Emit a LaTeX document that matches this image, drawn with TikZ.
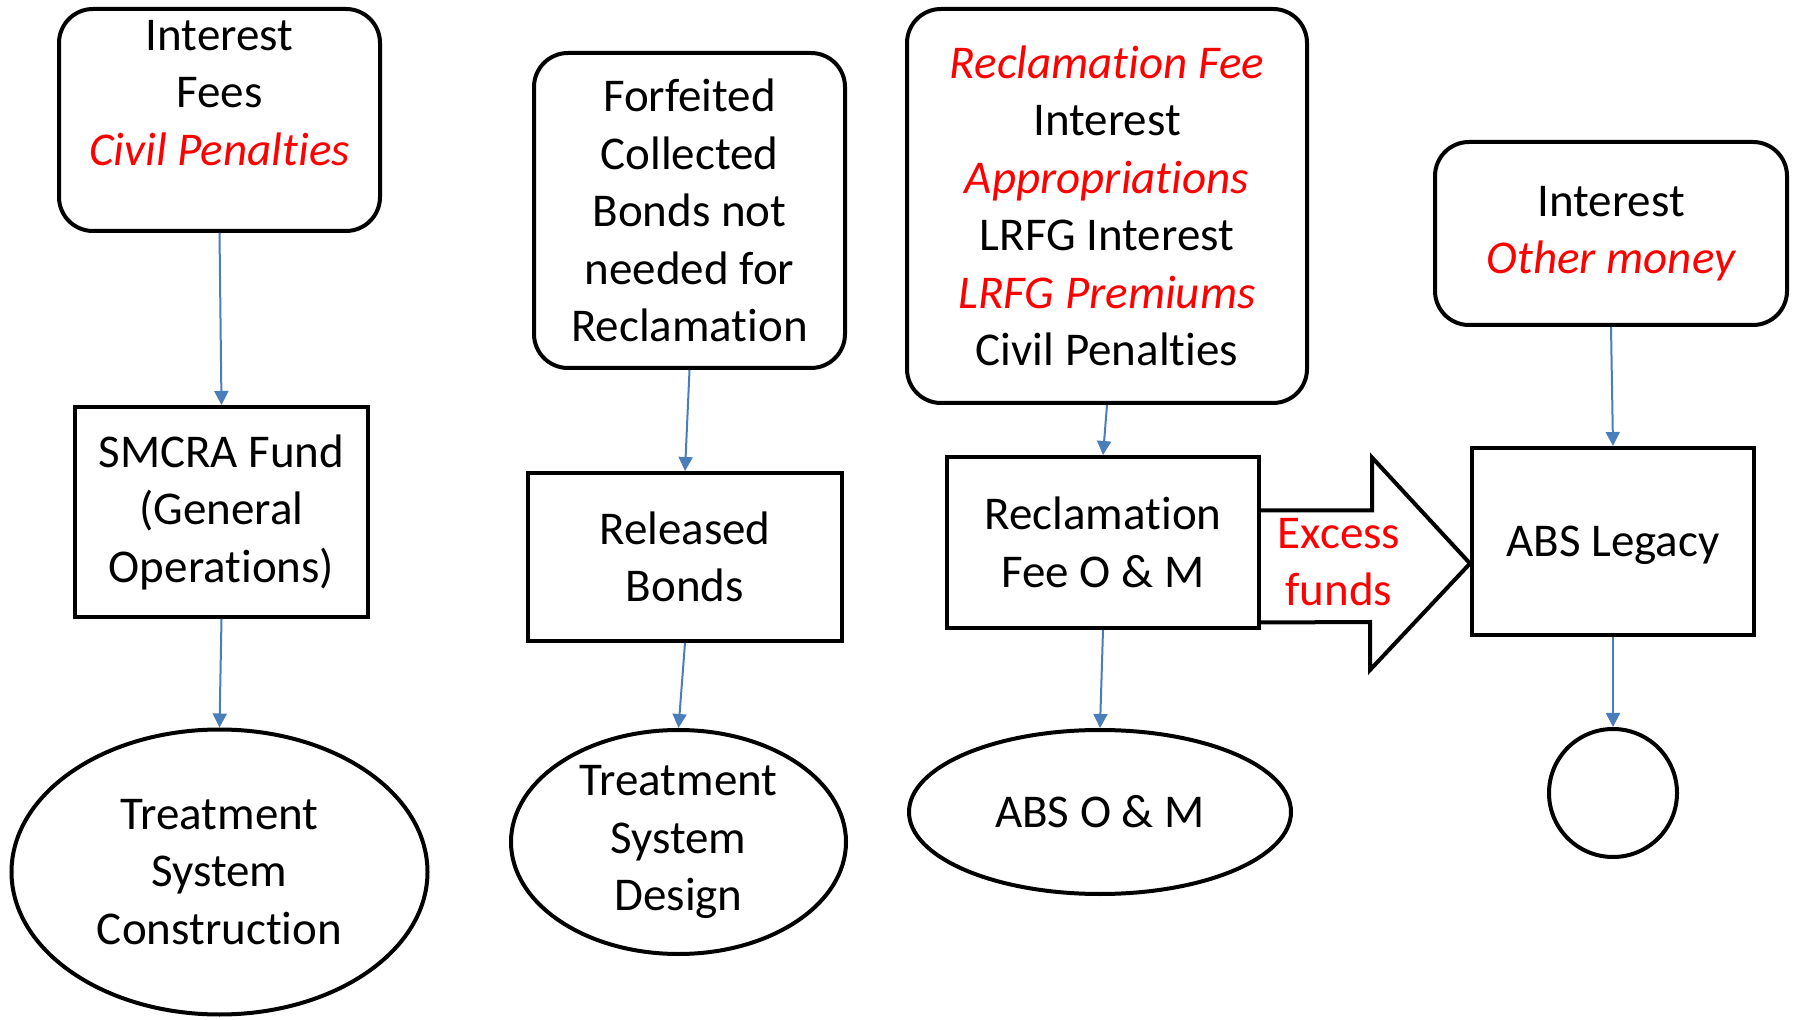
\documentclass[tikz,border=0pt]{standalone}
\usepackage{fontspec}
\setmainfont{Carlito}[Ligatures=NoCommon]
\usetikzlibrary{calc,positioning,arrows.meta,shapes.geometric}
\definecolor{linkblue}{RGB}{74,126,187}
\newcommand{\redit}[1]{\textcolor{red}{\itshape #1}}

\begin{document}
\begin{tikzpicture}[x=0.5pt,y=-0.5pt,
    every node/.style={font=\fontsize{23.5pt}{28.75pt}\selectfont, align=center},
    srcbox/.style={draw, line width=2pt, rounded corners=17pt},
    fundbox/.style={draw, line width=2pt},
    usebox/.style={draw, ellipse, line width=2pt, inner sep=0pt},
    link/.style={linkblue, line width=1pt, -{Triangle[width=7pt,length=7pt]}}]
    \useasboundingbox (0,0) rectangle (1793,1020);

    % column 1
    \node[srcbox, minimum width=160.5pt, minimum height=111pt] (inc1) at (219.5,120) {};
    \node (inc1txt) at (219.5,93) {Interest\\Fees\\\redit{Civil Penalties}};
    \node[fundbox, minimum width=146.5pt, minimum height=105pt] (smcra) at (221.5,512)
      {SMCRA Fund\\(General\\Operations)};
    \node[usebox, minimum width=208pt, minimum height=142.5pt] (build) at (219.5,872)
      {Treatment\\System\\Construction};

    % column 2
    \node[srcbox, minimum width=155.5pt, minimum height=157.5pt] (inc2) at (689.5,210.5)
      {Forfeited\\Collected\\Bonds not\\needed for\\Reclamation};
    \node[fundbox, minimum width=157pt, minimum height=84pt] (bonds) at (685,557)
      {Released\\Bonds};
    \node[usebox, minimum width=167.5pt, minimum height=112pt] (design) at (678.5,842)
      {Treatment\\System\\Design};

    % column 3
    \node[srcbox, minimum width=200pt, minimum height=197pt] (inc3) at (1107,206)
      {\redit{Reclamation Fee}\\Interest\\\redit{Appropriations}\\LRFG Interest\\\redit{LRFG Premiums}\\Civil Penalties};
    \node[fundbox, minimum width=156pt, minimum height=85.5pt] (rfee) at (1103,542.5)
      {Reclamation\\Fee O \& M};
    \node[usebox, minimum width=191pt, minimum height=82pt] (om) at (1100,812)
      {ABS O \& M};

    % column 4
    \node[srcbox, minimum width=176pt, minimum height=91.5pt] (inc4) at (1611,233.5)
      {Interest\\\redit{Other money}};
    \node[fundbox, minimum width=141pt, minimum height=93.5pt, text depth=-3pt] (legacy) at (1613,541.5)
      {ABS Legacy};
    \node[draw, circle, line width=2pt, minimum size=64pt] (outlet) at (1613,793) {};

    % excess funds arrow
    \draw[line width=2pt, fill=white, line join=miter]
      ($(rfee.east)+(0,-32)$) -- ++(111,0) -- ++(0,-53) -- ($(legacy.west)+(0,22)$)
      -- (1370,670) -- (1370,622) -- ($(rfee.east)+(0,80)$);
    \node[text=red] (excess) at (1339,562) {Excess\\funds};

    \draw[link] (inc1.south) -- (smcra.north);
    \draw[link] (smcra.south) -- (build.north);
    \draw[link] (inc2.south) -- (bonds.north);
    \draw[link] (bonds.south) -- (design.north);
    \draw[link] (inc3.south) -- (rfee.north);
    \draw[link] (rfee.south) -- (om.north);
    \draw[link] (inc4.south) -- (legacy.north);
    \draw[link] (legacy.south) -- (outlet.north);
\end{tikzpicture}
\end{document}
